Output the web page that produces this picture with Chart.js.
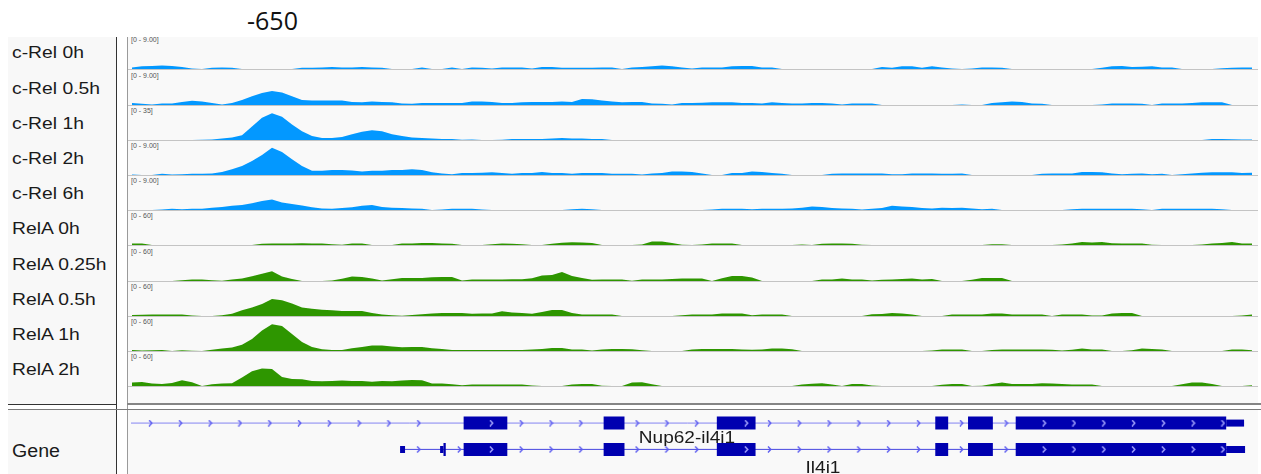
<!DOCTYPE html>
<html><head><meta charset="utf-8">
<script src="https://cdn.jsdelivr.net/npm/chart.js@4.4.1/dist/chart.umd.min.js"></script>
<style>
html,body{margin:0;padding:0;background:#fff;width:1261px;height:474px;overflow:hidden;}
#root{position:relative;width:1261px;height:474px;font-family:"Liberation Sans",Arial,sans-serif;}
.box{position:absolute;}
.lbl{position:absolute;left:12px;font-size:16.5px;line-height:17px;color:#1a1a1a;white-space:nowrap;transform:scaleX(1.17);transform-origin:0 0;}
.rng{position:absolute;left:131px;font-size:7px;line-height:8px;color:#555;white-space:nowrap;}
.gname{position:absolute;width:200px;text-align:center;font-size:17px;line-height:17px;color:#1a1a1a;white-space:nowrap;transform:scaleX(1.12);transform-origin:50% 0;}
canvas{position:absolute;display:block;}
</style></head><body><div id="root"></div>
<script>
// ---------------- data ----------------
const TRACK_NAMES = ['c-Rel 0h','c-Rel 0.5h','c-Rel 1h','c-Rel 2h','c-Rel 6h','RelA 0h','RelA 0.25h','RelA 0.5h','RelA 1h','RelA 2h'];
const TRACK_MAX = [9, 9, 35, 9, 9, 60, 60, 60, 60, 60];
const RANGE_LABELS = ['[0 - 9.00]','[0 - 9.00]','[0 - 35]','[0 - 9.00]','[0 - 9.00]','[0 - 60]','[0 - 60]','[0 - 60]','[0 - 60]','[0 - 60]'];
// bin centres (bp from left edge of view), 113 bins of 100 bp
const BIN_BP = Array.from({length: 113}, (_, i) => 50 + i * 100);

const CREL_0H = [0.4,0.7,0.8,0.9,0.8,0.5,0.1,0,0.3,0.4,
 0.3,0,0,0,0,0,0,0.3,0.3,0.4,
 0.5,0.4,0.4,0.5,0.4,0.3,0,0,0,0.4,
 0,0,0.4,0,0.4,0.3,0.1,0.4,0.4,0.4,
 0.1,0.5,0.5,0.3,0.3,0.3,0.3,0.4,0.4,0,
 0.4,0.5,0.7,0.9,0.7,0.4,0.1,0.4,0.4,0.4,
 0.7,0.8,0.8,0.4,0.4,0,0,0,0,0,
 0,0,0,0,0,0.5,0.3,0.7,0.7,0.3,
 0.7,0.4,0.1,0,0.1,0.4,0.4,0.3,0,0,
 0,0,0,0,0,0,0,0.3,0.7,0.8,
 0.5,0.6,0.7,0.4,0.4,0,0,0,0,0.2,
 0.3,0.4,0.4];
const CREL_05H = [0.5,0.3,0.1,0.4,0.4,0.8,1.1,0.9,0.5,0.1,
 0.5,1.3,2.3,3.2,3.7,3.3,2.3,1.3,1.2,1.2,
 1.2,1.2,0.8,0.7,0.9,0.8,0.7,0.4,0.3,0.5,
 0.5,0.5,0.5,0.5,0.9,0.9,0.8,0.5,0.5,0.7,
 0.8,0.8,0.8,0.9,0.8,1.6,1.5,1.2,0.9,0.7,
 0.8,0.8,0.4,0.3,0.1,0.5,0.5,0.6,0.7,0.7,
 0.7,0.5,0.5,0.4,0.7,0.5,0.4,0.4,0.5,0.5,
 0.4,0.1,0.4,0.4,0.4,0,0,0,0,0,
 0,0,0,0.1,0,0,0.5,0.7,0.9,0.8,
 0.4,0.3,0,0,0,0,0,0.1,0.4,0.4,
 0.4,0.3,0,0.4,0.4,0.4,0.5,0.7,0.7,0.7,
 0,0,0];
const CREL_1H = [0,0,0,0,0,0,0,0.3,0.6,1.5,
 2.5,5,14,23,27.5,24,16,9,4,2,
 2,3,6,8.5,10,9,6,4,2.5,2,
 1.5,1,1,0.3,0.5,0,0,0.3,1,1,
 1,1,1.5,2,1.5,1.5,1,1,0,0,
 0,0,0,0,0,0,0,0,0,0,
 0,0,0,0,0,0,0,0,0,0,
 0,0,0,0,0,0,0,0,0,0,
 0,0,0,0,0,0,0,0,0,0,
 0,0,0,0,0,0,0,0,0,0,
 0,0,0,0,0,0,0,0,1,1,
 0.8,0.4,0.4];
const CREL_2H = [0.1,0,0,0.3,0.1,0.2,0.3,0.3,0.4,0.8,
 1.5,2.4,3.7,5.3,7.2,6.1,4.2,2.4,1.1,1.1,
 1.3,1.3,1.2,0.9,1.1,1.1,1.3,1.3,1.5,1.3,
 0.7,0.4,0.2,0.5,0.5,0.6,0.7,0.5,0.3,0.5,
 0.5,0.8,0.5,0.5,0.3,0.5,0.5,0.5,0.3,0.3,
 0.3,0.1,0.4,0.5,0.9,0.9,0.8,0.4,0,0,
 0.5,0.5,0.9,0.8,0.5,0.3,0,0,0,0,
 0.3,0.4,0.4,0.4,0.4,0.4,0.2,0.2,0.4,0.4,
 0.4,0.3,0.3,0.4,0,0,0,0,0,0,
 0,0.3,0.4,0.4,0.4,0.8,0.8,0.7,0.4,0.2,
 0.3,0.4,0.2,0.3,0,0.2,0.4,0.6,0.7,0.7,
 0.7,0.5,0.6];
const CREL_6H = [0,0,0,0.1,0.3,0.2,0.3,0.3,0.6,0.8,
 1.1,1.3,1.8,2.4,2.8,2.0,1.6,1.2,0.7,0.4,
 0.3,0.5,0.7,1.1,1.3,0.8,0.6,0.5,0.4,0.3,
 0,0.1,0.3,0.3,0.3,0.1,0,0,0,0,
 0,0,0,0,0.2,0.3,0.2,0,0,0,
 0,0,0,0,0,0,0,0,0.1,0.3,
 0.3,0.3,0.2,0.3,0.3,0.3,0.4,0.6,0.9,0.8,
 0.5,0.4,0.3,0.1,0.3,0.5,1.1,0.9,0.8,0.5,
 0.4,0.6,0.5,0.6,0.4,0.2,0.3,0,0,0,
 0,0,0,0,0.2,0.3,0.3,0.3,0.3,0.3,
 0.3,0.2,0,0.3,0.3,0.3,0.3,0.3,0.3,0.2,
 0,0,0];
const RELA_0H = [2.6,2.6,0,0,0,0,0,0,0,0,
 0,0,0,2.0,2.6,2.6,2.6,3.0,2.6,2.6,
 1.5,0.5,2.6,2.6,0,0,0,2.6,2.6,3.5,
 3.5,2.6,2.0,0,0,0,1.5,2.6,2.0,1.5,
 0,0,2.0,4.0,5.0,4.4,3.5,0,0,0,
 0,1.0,6.2,6.0,3.5,0.5,0,1.0,2.6,2.6,
 2.6,0,0,0,0,0,0,1.0,0,2.2,
 2.6,2.6,2.0,0.5,0,0,0,0,0,0,
 0,0,0,0,0,0,1.5,1.5,0,0,
 0,0,0,1.0,2.6,5.3,4.5,5.3,3.0,2.6,
 2.6,2.6,0.5,0,0,0,0,1.0,2.6,3.5,
 5.3,2.6,2.6];
const RELA_025H = [0,0,0,0,0,1.5,2.6,2.6,1.5,0.5,
 2.6,4.5,8.5,13,17,8,3.5,0,0,0,
 1.0,4.0,8.0,7.0,4.4,1.0,3.0,5.3,5.3,5.3,
 6.5,7.0,7.0,1.0,2.6,2.6,2.6,2.6,3.0,3.0,
 5.0,9.5,10.5,16,9,5.3,2.0,2.6,2.6,2.6,
 0.5,2.6,2.6,2.6,3.5,4.4,4.4,4.4,0,5.0,
 8.8,8.8,6.0,0,0,0,0,0,0,2.6,
 2.6,4.4,2.6,2.6,1.0,2.2,2.6,3.5,4.4,2.6,
 3.5,0,0,0,2.0,5.3,5.3,5.3,0,0,
 0,0,0,0,0,0,0,0,0,0,
 0,0,0,0,0,0,0,0,0,0,
 0,0,0];
const RELA_05H = [1.8,2.2,2.6,2.6,2.6,2.6,0.8,0,0,1.5,
 4.0,10,15,21,30,28,22,15,13,11,
 10,9,9,9,5.5,2.6,1.5,0.5,1.8,3.0,
 4.4,5.3,5.3,5.3,4.0,4.4,4.4,8.5,6.0,5.3,
 4.0,7.0,10.5,10.5,5.3,2.6,2.6,2.6,2.6,0,
 0,0,0,0,0,1.5,2.6,2.6,2.6,4.4,
 4.4,4.4,1.5,2.6,2.6,2.6,0,0,0,0,
 0,0,0,0,3.0,3.5,5.5,4.5,2.6,0,
 0,0,2.6,2.6,2.6,2.6,4.4,4.4,2.6,2.6,
 2.6,2.6,0,2.6,2.6,2.6,0.8,1.0,4.5,5.3,
 5.3,0,0,0,0,0,0,0,0,0,
 0,1.0,2.6];
const RELA_1H = [1.8,1.0,1.3,1.8,0,1.3,0.5,0,2.0,4.4,
 6.0,11,21,36,47,44,30,16,7,3,
 1.8,1.8,5,7,9.5,9.5,8,6.5,7,7,
 5,3.5,1.8,1.8,1.8,1.8,1.8,1.8,1.8,1.8,
 2.5,3.5,5.3,5.3,2.6,2.6,1.0,2.6,3.5,3.5,
 3.0,1.5,0,0,0,0,2.6,3.5,3.5,3.5,
 3.5,2.6,2.0,2.6,4.4,4.4,3.0,0,0,0,
 0,0,0,0,0,0,0,0,0,0,
 1.0,2.6,2.6,2.6,0,0,1.8,2.6,2.6,2.6,
 2.6,2.6,2.0,1.0,2.2,4.4,2.6,2.6,0,0,
 1.5,4.4,3.5,2.6,0,0,0,0,0,0,
 2.6,2.6,1.5];
const RELA_2H = [6,7,4.4,3.5,5.3,10,6.5,0,3,4.4,
 5,15,26,31,30,16,12.5,12,9,8.5,
 8.8,9.5,9,8.8,7.5,8.8,8.5,9.5,10.5,10,
 4.4,4.4,3,1.5,2.6,2.6,2.6,2.6,2.6,2.6,
 1.0,0,0,0,2.6,3.5,3.5,0.5,0,0,
 6,6.5,3,0,0,0,0,0,0,0,
 0,0,0,0,0,0,0,2.5,4,5,
 2.6,0,3.5,3.5,1.0,0,0,0,0,0,
 0,2,3.5,3.5,0,0.5,3.5,6,3.5,3.5,
 3.5,5,4.5,3.5,2.6,2.6,2.6,0,0,0,
 0,0,0,0,0,3,6,6,3.5,0,
 0,0,1.5];
const TRACK_VALUES = [CREL_0H, CREL_05H, CREL_1H, CREL_2H, CREL_6H, RELA_0H, RELA_025H, RELA_05H, RELA_1H, RELA_2H];

// gene models (bp from left edge of view)
const VIEW_BP = [0, 11310];
const NUP_SPAN = [0, 11210];
const NUP_EXONS = [[3350,3790],[4760,4970],[5900,6290],[8100,8230],[8430,8680],[8910,11030]];
const NUP_UTR = [[11030,11210]];
const IL_SPAN = [2710, 11220];
const IL_EXONS = [[3147,3170],[3350,3790],[4760,4970],[5900,6290],[8100,8230],[8430,8680],[8910,11030]];
const IL_UTR = [[2710,2760],[3113,3147],[11030,11220]];
const NUP_ARROWS = [197,497,797,1097,1397,1697,1997,2297,2597,2897,3930,4230,4530,5097,5397,5697,6430,6730,7030,7330,7630,7930,8363,8813];
const IL_ARROWS = [2897,3307,3930,4230,4530,5097,5397,5697,6430,6730,7030,7330,7630,7930,8363,8813];
const EXON_ARROWS = [3630,6197,9197,9497,9797,10097,10397,10697,10997];

// ---------------- layout ----------------
const root = document.getElementById('root');
const BASE = [69,105,140,175,210,245,281,316,351,386];
const X0 = 127, W = 1131;
const CREL_COLOR = 'rgb(3,152,255)';
const RELA_COLOR = 'rgb(46,150,0)';

function box(l, t, w, h, bg) {
  const d = document.createElement('div');
  d.className = 'box';
  d.style.cssText = `left:${l}px;top:${t}px;width:${w}px;height:${h}px;background:${bg};`;
  root.appendChild(d);
  return d;
}
function text(cls, l, t, s) {
  const d = document.createElement('div');
  d.className = cls;
  d.style.left = l + 'px';
  d.style.top = t + 'px';
  d.textContent = s;
  root.appendChild(d);
  return d;
}
// panels
box(8, 37, 108, 367, '#f8f8f8');
box(128, 37, 1130, 367, '#f9f9f9');
box(8, 410, 108, 64, '#f8f8f8');
box(128, 410, 1130, 64, '#f9f9f9');
box(116, 37, 1, 437, '#333');
box(127, 37, 1, 437, '#9a9a9a');
box(8, 404, 109, 1, '#333');
box(127, 403, 1134, 2, '#858585');
box(8, 409, 1253, 1, '#7a7a7a');

// title
const t650 = text('box', 247, 8, '-650');
t650.style.cssText += 'font-family:"Open Sans","Noto Sans",sans-serif;font-size:25px;line-height:25px;color:#111;';

const G = document.createElement('div');
G.className = 'lbl'; G.style.top = '442px'; G.style.fontSize = '18px'; G.style.lineHeight = '18px';
G.style.transform = 'scaleX(1.09)'; G.textContent = 'Gene'; root.appendChild(G);

function baseOpts(ymax) {
  return {
    responsive: false, animation: false, devicePixelRatio: 1, events: [],
    layout: {padding: 0},
    plugins: {legend: {display: false}, tooltip: {enabled: false}, title: {display: false}},
    scales: {
      x: {type: 'linear', min: VIEW_BP[0], max: VIEW_BP[1], display: false},
      y: {min: 0, max: ymax, display: false}
    }
  };
}
function makeCanvas(l, t, w, h) {
  const c = document.createElement('canvas');
  c.width = w; c.height = h;
  c.style.left = l + 'px'; c.style.top = t + 'px';
  c.style.width = w + 'px'; c.style.height = h + 'px';
  root.appendChild(c);
  return c;
}

TRACK_NAMES.forEach((name, i) => {
  const B = BASE[i];
  box(128, B, 1130, 1, '#c4c4c4');
  text('lbl', 12, B - 25, name);
  text('rng', 131, B - 33, RANGE_LABELS[i]);
  const c = makeCanvas(X0, B - 34, W, 34);
  const col = i < 5 ? CREL_COLOR : RELA_COLOR;
  new Chart(c, {
    type: 'line',
    data: {datasets: [{
      data: TRACK_VALUES[i].map((v, k) => ({x: BIN_BP[k], y: v})),
      fill: 'origin', backgroundColor: col,
      borderColor: 'rgba(0,0,0,0)', borderWidth: 0,
      pointRadius: 0, tension: 0
    }]},
    options: baseOpts(TRACK_MAX[i])
  });
});

// ---------------- gene track ----------------
const ROW1 = 11.5, ROW2 = 41.5;
function chevron(color) {
  const c = document.createElement('canvas');
  c.width = 5; c.height = 7;
  const g = c.getContext('2d');
  g.strokeStyle = color; g.lineWidth = 1.4;
  g.beginPath(); g.moveTo(1, 0.5); g.lineTo(3.8, 3.5); g.lineTo(1, 6.5); g.stroke();
  return c;
}
function segs(list, y) {
  const out = [];
  list.forEach(([s, e]) => { out.push({x: s, y: y}); out.push({x: e, y: y}); out.push({x: e + 1, y: null}); });
  return out;
}
function lineDs(data, color, width) {
  return {type: 'line', data: data, borderColor: color, backgroundColor: color, borderWidth: width,
    borderCapStyle: 'butt', pointRadius: 0, fill: false, tension: 0, spanGaps: false};
}
function arrowDs(xs, y, img) {
  return {type: 'line', data: xs.map(x => ({x: x, y: y})), showLine: false,
    pointStyle: img, pointRadius: 3, borderWidth: 0};
}
const blueChev = chevron('#5a5af0');
const whiteChev = chevron('#a9a9ff');
const EXON_COLOR = '#0000b0';
const gc = makeCanvas(X0, 409, W, 65);
const gopts = baseOpts(65);
gopts.scales.y = {min: 0, max: 65, reverse: true, display: false};
new Chart(gc, {
  type: 'line',
  data: {datasets: [
    arrowDs(EXON_ARROWS, ROW1, whiteChev),
    arrowDs(EXON_ARROWS, ROW2, whiteChev),
    arrowDs(NUP_ARROWS, ROW1, blueChev),
    arrowDs(IL_ARROWS, ROW2, blueChev),
    lineDs(segs(NUP_EXONS, ROW1), EXON_COLOR, 13),
    lineDs(segs(IL_EXONS, ROW2), EXON_COLOR, 13),
    lineDs(segs(NUP_UTR, ROW1), EXON_COLOR, 7),
    lineDs(segs(IL_UTR, ROW2), EXON_COLOR, 7),
    lineDs(segs([NUP_SPAN], ROW1), '#8484f2', 1),
    lineDs(segs([IL_SPAN], ROW2), '#4545e0', 1)
  ]},
  options: gopts
});
const n1 = text('gname', 587, 429, 'Nup62-il4i1');
const n2 = text('gname', 723, 459, 'Il4i1');
</script>
</body></html>
